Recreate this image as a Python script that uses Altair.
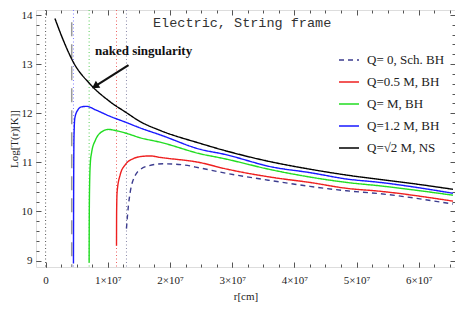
import altair as alt
import pandas as pd

# ---- data (r in units of 1e7 cm, y = Log[T(r)[K]]) ----
sch_r = [1.30, 1.33, 1.36, 1.44, 1.53, 1.63, 1.89, 2.2, 2.5, 2.85, 3.66, 4.25, 4.84, 5.38, 6.55]
sch_y = [9.65, 10.1, 10.39, 10.73, 10.86, 10.92, 10.97, 10.95, 10.88, 10.79, 10.62, 10.51, 10.42, 10.36, 10.15]

q05_r = [1.140, 1.142, 1.15, 1.20, 1.28, 1.40, 1.55, 1.68, 1.84, 2.5, 2.85, 3.66, 4.25, 4.84, 5.38, 6.55]
q05_y = [9.30, 10.0, 10.4, 10.75, 10.95, 11.07, 11.12, 11.13, 11.10, 10.99, 10.88, 10.69, 10.59, 10.47, 10.41, 10.21]

q1_r = [0.700, 0.702, 0.707, 0.72, 0.74, 0.80, 0.88, 1.01, 1.15, 1.30, 1.52, 1.84, 2.5, 2.85, 3.66, 4.25, 4.84, 5.38, 6.55]
q1_y = [8.96, 9.8, 10.5, 11.0, 11.2, 11.45, 11.60, 11.67, 11.64, 11.59, 11.50, 11.41, 11.17, 11.08, 10.84, 10.70, 10.59, 10.52, 10.33]

q12_r = [0.448, 0.450, 0.453, 0.457, 0.47, 0.52, 0.58, 0.66, 0.80, 1.03, 1.30, 1.52, 1.84, 2.5, 2.85, 3.66, 4.25, 4.84, 5.38, 6.55]
q12_y = [8.94, 10.0, 11.0, 11.55, 11.90, 12.07, 12.13, 12.14, 12.07, 11.94, 11.81, 11.70, 11.56, 11.26, 11.17, 10.90, 10.79, 10.66, 10.59, 10.37]

ns_r = [0.15, 0.28, 0.45, 0.71, 1.03, 1.30, 1.52, 1.84, 2.5, 2.85, 3.66, 4.25, 4.84, 5.38, 6.0, 6.55]
ns_y = [13.93, 13.50, 13.03, 12.60, 12.24, 12.01, 11.83, 11.65, 11.38, 11.25, 11.00, 10.86, 10.74, 10.65, 10.55, 10.45]

series_names = ["Q= 0, Sch. BH", "Q=0.5 M, BH", "Q= M, BH", "Q=1.2 M, BH", "Q=\u221a2  M, NS"]
series_colors = ["#3d3d8f", "#ee2020", "#22dd22", "#1a1aff", "#000000"]
series_dash = [[5, 4], [1, 0], [1, 0], [1, 0], [1, 0]]

# vertical marker lines (r in 1e7 cm)
dotted_r = [0.0, 0.448, 0.70, 1.14, 1.30]
dotted_colors = ["#555555", "#8080ff", "#55cc55", "#ee6060", "#8888aa"]
dashed_r = [0.42]
dashed_top = [13.85]

x_major = [0, 1, 2, 3, 4, 5, 6]
y_major = [9, 10, 11, 12, 13, 14]

title_text = "Electric, String frame"
note_text = "naked singularity"

# ---- tables ----
rows = []
for name, rs, ys in zip(series_names, [sch_r, q05_r, q1_r, q12_r, ns_r], [sch_y, q05_y, q1_y, q12_y, ns_y]):
    for i, (r, y) in enumerate(zip(rs, ys)):
        rows.append({"series": name, "r": r * 1e7, "logT": y, "order": i})
curves = pd.DataFrame(rows)

dotted = pd.DataFrame({"r": [v * 1e7 for v in dotted_r], "c": dotted_colors})
dashed = pd.DataFrame({"r": [v * 1e7 for v in dashed_r], "top": dashed_top, "bottom": [8.87]})

X_DOMAIN = [-0.1543e7, 6.582e7]
Y_DOMAIN = [8.868, 14.102]
XS = alt.Scale(domain=X_DOMAIN, nice=False, zero=False)
YS = alt.Scale(domain=Y_DOMAIN, nice=False, zero=False)

x_major_vals = [v * 1e7 for v in x_major]
x_minor_vals = [i * 0.25e7 for i in range(0, 27)]
y_minor_vals = [round(9 + i * 0.2, 1) for i in range(0, 26)]

SERIF = "Liberation Serif"
TICK = "#555555"


def tick_layer(xo, yo, xv, yv, size):
    return alt.Chart(curves).mark_point(opacity=0).encode(
        x=alt.X("r:Q", scale=XS, title=None,
                axis=alt.Axis(orient=xo, values=xv, tickSize=size, offset=-size, labels=False,
                              domain=False, grid=False, tickColor=TICK, tickWidth=1)),
        y=alt.Y("logT:Q", scale=YS, title=None,
                axis=alt.Axis(orient=yo, values=yv, tickSize=size, offset=-size, labels=False,
                              domain=False, grid=False, tickColor=TICK, tickWidth=1)),
    )


ticks = [
    tick_layer("bottom", "left", x_major_vals, y_major, 5),
    tick_layer("bottom", "left", x_minor_vals, y_minor_vals, 3),
    tick_layer("top", "right", x_major_vals, y_major, 5),
    tick_layer("top", "right", x_minor_vals, y_minor_vals, 3),
]

labels = alt.Chart(curves).mark_point(opacity=0).encode(
    x=alt.X("r:Q", scale=XS, title="r[cm]",
            axis=alt.Axis(orient="bottom", values=x_major_vals, ticks=False, tickSize=0, domain=False, grid=False,
                          labelExpr="datum.value == 0 ? '0' : format(datum.value / 1e7, 'd') + '\u00d710\u2077'",
                          labelFont=SERIF, labelFontSize=11, labelPadding=7, labelColor="#222",
                          titleFont=SERIF, titleFontSize=11, titleFontWeight="normal", titlePadding=5,
                          titleColor="#222")),
    y=alt.Y("logT:Q", scale=YS, title="Log[T(r)[K]]",
            axis=alt.Axis(orient="left", values=y_major, ticks=False, tickSize=0, domain=False, grid=False,
                          labelFont=SERIF, labelFontSize=11, labelPadding=4, labelColor="#222",
                          titleFont=SERIF, titleFontSize=11, titleFontWeight="normal", titlePadding=1.5,
                          titleColor="#222")),
)

dotted_layer = alt.Chart(dotted).mark_rule(strokeDash=[1, 2.5], strokeWidth=1).encode(
    x=alt.X("r:Q", scale=XS, axis=None),
    color=alt.Color("c:N", scale=None),
)

dashed_layer = alt.Chart(dashed).mark_rule(strokeDash=[14, 8], strokeWidth=1.5, color="#9a9a9a").encode(
    x=alt.X("r:Q", scale=XS, axis=None),
    y=alt.Y("top:Q", scale=YS, axis=None),
    y2="bottom:Q",
)

legend_kw = dict(title=None, orient="none", legendX=302, legendY=39,
                 symbolType="stroke", symbolSize=400, symbolStrokeWidth=1.5,
                 labelFont=SERIF, labelFontSize=13, labelColor="#222",
                 labelOffset=7, rowPadding=4, padding=0)

lines = alt.Chart(curves).mark_line(clip=True, strokeWidth=1.4, interpolate="monotone").encode(
    x=alt.X("r:Q", scale=XS, axis=None),
    y=alt.Y("logT:Q", scale=YS, axis=None),
    order="order:Q",
    color=alt.Color("series:N", sort=series_names,
                    scale=alt.Scale(domain=series_names, range=series_colors),
                    legend=alt.Legend(**legend_kw)),
    strokeDash=alt.StrokeDash("series:N", sort=series_names,
                              scale=alt.Scale(domain=series_names, range=series_dash),
                              legend=alt.Legend(**legend_kw)),
)

title_layer = alt.Chart(pd.DataFrame({"r": [1.727e7], "y": [13.84], "t": [title_text]})).mark_text(
    align="left", baseline="middle", font="Liberation Mono", fontSize=13.5, color="#333333"
).encode(x=alt.X("r:Q", scale=XS, axis=None), y=alt.Y("y:Q", scale=YS, axis=None), text="t:N")

note_layer = alt.Chart(pd.DataFrame({"r": [0.794e7], "y": [13.27], "t": [note_text]})).mark_text(
    align="left", baseline="middle", font=SERIF, fontSize=13, fontWeight="bold", color="#111111"
).encode(x=alt.X("r:Q", scale=XS, axis=None), y=alt.Y("y:Q", scale=YS, axis=None), text="t:N")

arrow_df = pd.DataFrame({"r": [1.333e7], "y": [12.98], "r2": [0.811e7], "y2": [12.563]})
arrow_line = alt.Chart(arrow_df).mark_rule(strokeWidth=2.2, color="#111111").encode(
    x=alt.X("r:Q", scale=XS, axis=None), y=alt.Y("y:Q", scale=YS, axis=None), x2="r2:Q", y2="y2:Q")
arrow_head = alt.Chart(arrow_df).mark_point(shape="triangle", filled=True, size=70, angle=238,
                                             color="#111111", opacity=1).encode(
    x=alt.X("r2:Q", scale=XS, axis=None), y=alt.Y("y2:Q", scale=YS, axis=None))

chart = alt.layer(
    *ticks, labels, dotted_layer, dashed_layer, lines, title_layer, note_layer, arrow_line, arrow_head
).resolve_axis(x="independent", y="independent").properties(
    width=419, height=257,
    padding={"left": 28, "top": 2, "right": 0, "bottom": 35},
    autosize=alt.AutoSizeParams(type="none"),
).configure_view(stroke="#9a9a9a", strokeWidth=1).configure(background="white")

chart.save("out.html", embed_options={"renderer": "svg", "actions": False})
